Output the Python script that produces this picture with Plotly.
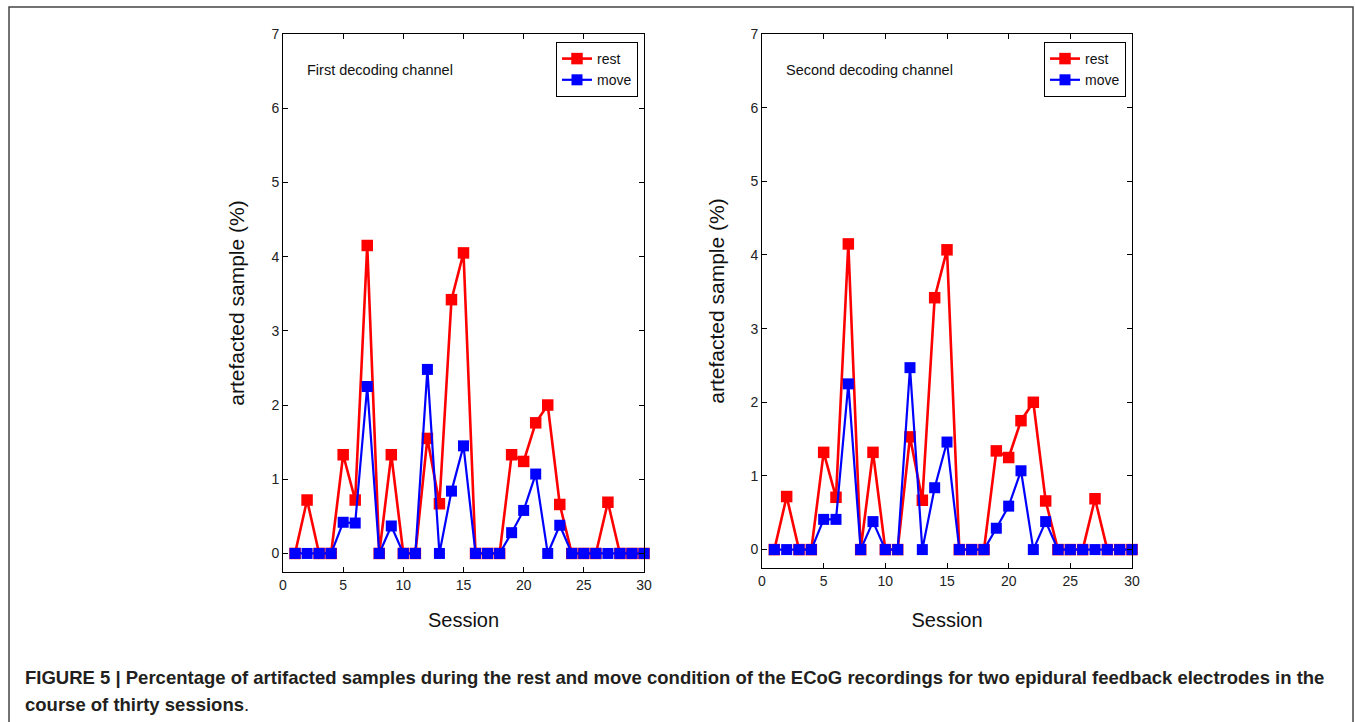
import plotly.graph_objects as go

sessions = list(range(1, 31))

rest_ch1 = [0, 0.72, 0, 0, 1.33, 0.72, 4.15, 0, 1.33, 0, 0, 1.55, 0.67, 3.42, 4.05,
            0, 0, 0, 1.33, 1.24, 1.76, 2.0, 0.66, 0, 0, 0, 0.69, 0, 0, 0]
move_ch1 = [0, 0, 0, 0, 0.42, 0.41, 2.25, 0, 0.37, 0, 0, 2.48, 0, 0.84, 1.45,
            0, 0, 0, 0.28, 0.58, 1.07, 0, 0.38, 0, 0, 0, 0, 0, 0, 0]

rest_ch2 = [0, 0.72, 0, 0, 1.32, 0.71, 4.15, 0, 1.32, 0, 0, 1.53, 0.67, 3.42, 4.07,
            0, 0, 0, 1.34, 1.25, 1.75, 2.0, 0.66, 0, 0, 0, 0.69, 0, 0, 0]
move_ch2 = [0, 0, 0, 0, 0.41, 0.41, 2.25, 0, 0.38, 0, 0, 2.47, 0, 0.84, 1.46,
            0, 0, 0, 0.29, 0.59, 1.07, 0, 0.38, 0, 0, 0, 0, 0, 0, 0]

panel_labels = ["First decoding channel", "Second decoding channel"]
series_names = ["rest", "move"]
x_title = "Session"
y_title = "artefacted sample (%)"
caption_1 = ("<b>FIGURE 5 | Percentage of artifacted samples during the rest and move condition "
             "of the ECoG recordings for two epidural feedback electrodes in the</b>")
caption_2 = "<b>course of thirty sessions</b>."

W, H = 1355, 722
RED = "#FF0000"
BLUE = "#0000FF"
FONT = "Liberation Sans, Arial, Helvetica, sans-serif"

fig = go.Figure()

panels = [
    dict(rest=rest_ch1, move=move_ch1, xa="x", ya="y", legend="legend",
         dom_x=(283, 644), dom_y=(34, 572), xstand=21, ystand=21, leg_r=638),
    dict(rest=rest_ch2, move=move_ch2, xa="x2", ya="y2", legend="legend2",
         dom_x=(762, 1132), dom_y=(34, 568), xstand=25, ystand=20, leg_r=1126),
]

for p in panels:
    fig.add_trace(go.Scatter(
        x=sessions, y=p["rest"], name=series_names[0], mode="lines+markers",
        line=dict(color=RED, width=2.6),
        marker=dict(symbol="square", size=11.5, color=RED),
        xaxis=p["xa"], yaxis=p["ya"], legend=p["legend"], cliponaxis=False))
    fig.add_trace(go.Scatter(
        x=sessions, y=p["move"], name=series_names[1], mode="lines+markers",
        line=dict(color=BLUE, width=2.2),
        marker=dict(symbol="square", size=11, color=BLUE),
        xaxis=p["xa"], yaxis=p["ya"], legend=p["legend"], cliponaxis=False))

axis_common = dict(
    showline=True, linecolor="#000", linewidth=1, mirror="ticks",
    ticks="inside", ticklen=5, tickcolor="#000", tickwidth=1,
    showgrid=False, zeroline=False, automargin=False,
    tickfont=dict(family=FONT, size=14, color="#222"),
)

layout = dict(
    width=W, height=H,
    margin=dict(l=0, r=0, t=0, b=0, pad=0, autoexpand=False),
    paper_bgcolor="white", plot_bgcolor="white",
    font=dict(family=FONT, color="#000"),
    showlegend=True,
)

for i, p in enumerate(panels):
    suffix = "" if i == 0 else "2"
    x0, x1 = p["dom_x"]
    y0, y1 = p["dom_y"]
    layout["xaxis" + suffix] = dict(
        axis_common, domain=[x0 / W, x1 / W], range=[0, 30], dtick=5, tick0=0,
        anchor="y" + suffix,
        title=dict(text=x_title, font=dict(family=FONT, size=20, color="#111"),
                   standoff=p["xstand"]))
    layout["yaxis" + suffix] = dict(
        axis_common, domain=[1 - y1 / H, 1 - y0 / H], range=[-0.25, 7], dtick=1, tick0=0,
        anchor="x" + suffix,
        title=dict(text=y_title, font=dict(family=FONT, size=21, color="#111"),
                   standoff=p["ystand"]))
    layout["legend" + suffix] = dict(
        x=p["leg_r"] / W, y=1 - 42 / H, xanchor="right", yanchor="top",
        bgcolor="white", bordercolor="#000", borderwidth=1,
        font=dict(family=FONT, size=14, color="#111"),
        tracegroupgap=0, itemsizing="trace")

fig.update_layout(**layout)

# panel labels
for i, p in enumerate(panels):
    x0 = p["dom_x"][0]
    fig.add_annotation(
        x=(x0 + 22) / W, y=1 - 70 / H, xref="paper", yref="paper",
        xanchor="left", yanchor="middle", showarrow=False,
        text=panel_labels[i], font=dict(family=FONT, size=14.5, color="#111"))

# caption
CAP_FONT = "Liberation Sans Narrow, Liberation Sans, Arial, sans-serif"
fig.add_annotation(x=23 / W, y=1 - 677 / H, xref="paper", yref="paper",
                   xanchor="left", yanchor="middle", showarrow=False, text=caption_1,
                   font=dict(family=CAP_FONT, size=18.5, color="#231f20"))
fig.add_annotation(x=23 / W, y=1 - 704 / H, xref="paper", yref="paper",
                   xanchor="left", yanchor="middle", showarrow=False, text=caption_2,
                   font=dict(family=CAP_FONT, size=18.5, color="#231f20"))

# outer frame
fig.add_shape(type="rect", xref="paper", yref="paper",
              x0=9 / W, x1=1353 / W, y0=-0.05, y1=1 - 7 / H,
              line=dict(color="#444", width=1.5), fillcolor="rgba(0,0,0,0)", layer="below")

fig.write_html("out.html")
